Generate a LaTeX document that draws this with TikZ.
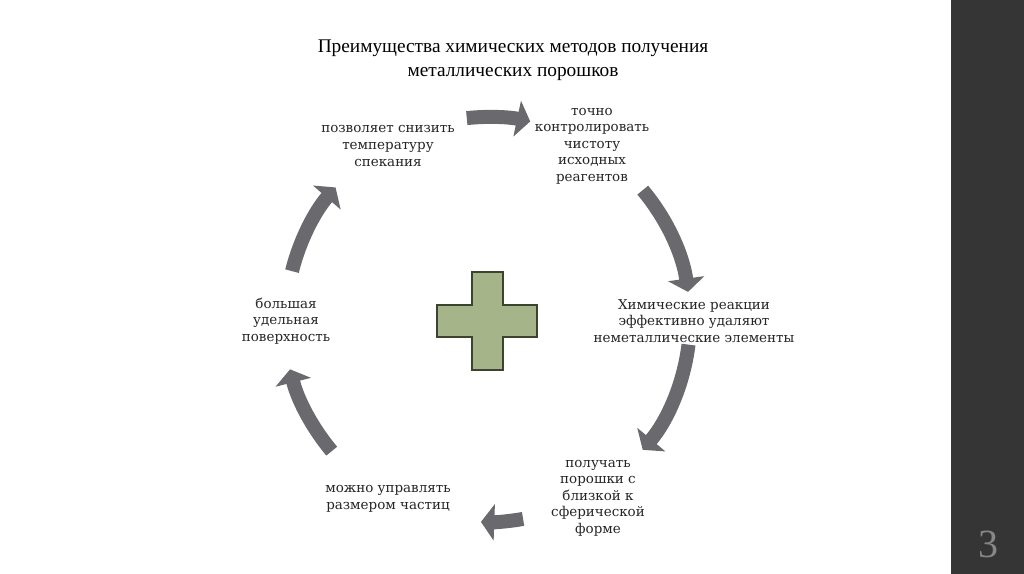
\documentclass[tikz,border=0pt]{standalone}
\usepackage{fontspec}
\setmainfont{Liberation Serif}
\newfontfamily\bodyfont{DejaVu Serif}
\usetikzlibrary{arrows.meta}
\definecolor{arrowgray}{RGB}{106,106,110}
\definecolor{crossfill}{RGB}{166,180,138}
\definecolor{crossline}{RGB}{60,68,48}
\definecolor{sidebar}{RGB}{53,53,53}
\definecolor{pagenum}{RGB}{135,135,135}
\tikzset{
  blockarrow/.style={draw=arrowgray, line width=10.5pt,
    -{Triangle[width=27pt,length=10pt]}},
  label/.style={font=\bodyfont\fontsize{10.1pt}{12.4pt}\selectfont, align=center, inner sep=0pt, text=black!85},
  titletext/.style={font=\fontsize{14.5pt}{18pt}\selectfont, align=center, inner sep=0pt}
}
\begin{document}
\begin{tikzpicture}[x=0.75pt,y=0.75pt]
\useasboundingbox (0,0) rectangle (1024,-574);
\fill[white] (0,0) rectangle (1024,-574);
\fill[sidebar] (951,0) rectangle (1024,-574);
\node[text=pagenum, font=\fontsize{30pt}{30pt}\selectfont, inner sep=0pt] (num) at (988,-544) {3};

\node[titletext] (title) at (513,-60) {Преимущества химических методов получения\\металлических порошков};

\coordinate (C) at (488,-320);

% arrows (clockwise)
\draw[blockarrow] ([shift={(96:203)}]C) arc[start angle=96,end angle=78,radius=203];
\draw[blockarrow] ([shift={(40:202)}]C) arc[start angle=40,end angle=8,radius=202];
\draw[blockarrow] ([shift={(-7:202)}]C) arc[start angle=-7,end angle=-40,radius=202];
\draw[blockarrow] ([shift={(-80:202)}]C) arc[start angle=-80,end angle=-92,radius=202];
\draw[blockarrow] ([shift={(220:204)}]C) arc[start angle=220,end angle=194,radius=204];
\draw[blockarrow] ([shift={(166:202)}]C) arc[start angle=166,end angle=139,radius=202];

% cross
\filldraw[fill=crossfill, draw=crossline, line width=0.9pt]
  (472,-272) -- (503,-272) -- (503,-305) -- (537,-305) -- (537,-337) -- (503,-337)
  -- (503,-370) -- (472,-370) -- (472,-337) -- (437,-337) -- (437,-305) -- (472,-305) -- cycle;

\node[label] (t1) at (388,-146) {позволяет снизить\\температуру\\спекания};
\node[label] (t2) at (592,-146) {точно\\контролировать\\чистоту\\исходных\\реагентов};
\node[label] (t3) at (694,-321) {Химические реакции\\эффективно удаляют\\неметаллические элементы};
\node[label] (t4) at (598,-498) {получать\\порошки с\\близкой к\\сферической\\форме};
\node[label] (t5) at (388,-499) {можно управлять\\размером частиц};
\node[label] (t6) at (286,-321) {большая\\удельная\\поверхность};
\end{tikzpicture}
\end{document}
